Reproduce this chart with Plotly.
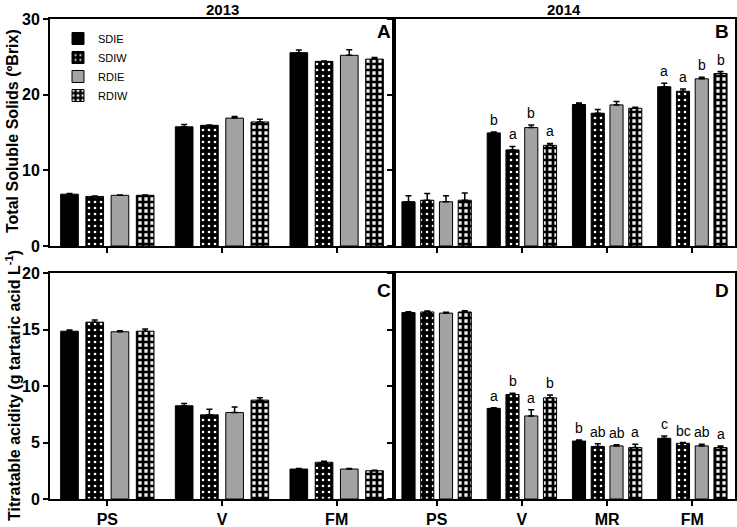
import plotly.graph_objects as go

series = ["SDIE", "SDIW", "RDIE", "RDIW"]
stages_2013 = ["PS", "V", "FM"]
stages_2014 = ["PS", "V", "MR", "FM"]

# Total soluble solids (ºBrix), 2013  [series][stage]
tss_2013 = [[6.85, 15.75, 25.55],
            [6.55, 15.95, 24.40],
            [6.70, 16.90, 25.20],
            [6.70, 16.40, 24.70]]
tss_2013_err = [[0.10, 0.30, 0.35],
                [0.05, 0.05, 0.05],
                [0.05, 0.20, 0.75],
                [0.05, 0.35, 0.20]]

# Total soluble solids (ºBrix), 2014
tss_2014 = [[5.85, 14.95, 18.70, 21.05],
            [6.05, 12.70, 17.55, 20.45],
            [5.85, 15.65, 18.65, 22.10],
            [6.05, 13.30, 18.20, 22.80]]
tss_2014_err = [[0.80, 0.10, 0.20, 0.45],
                [0.90, 0.45, 0.50, 0.30],
                [0.80, 0.35, 0.45, 0.20],
                [0.95, 0.25, 0.15, 0.25]]
tss_2014_letters = [["", "b", "", "a"],
                    ["", "a", "", "a"],
                    ["", "b", "", "b"],
                    ["", "a", "", "b"]]

# Titratable acidity (g tartaric acid L-1), 2013
ta_2013 = [[14.85, 8.25, 2.65],
           [15.65, 7.45, 3.25],
           [14.80, 7.65, 2.65],
           [14.85, 8.75, 2.50]]
ta_2013_err = [[0.10, 0.20, 0.05],
               [0.20, 0.50, 0.10],
               [0.10, 0.50, 0.05],
               [0.20, 0.20, 0.05]]

# Titratable acidity (g tartaric acid L-1), 2014
ta_2014 = [[16.50, 8.02, 5.13, 5.37],
           [16.55, 9.25, 4.65, 4.93],
           [16.45, 7.35, 4.70, 4.70],
           [16.55, 8.95, 4.55, 4.55]]
ta_2014_err = [[0.08, 0.05, 0.10, 0.20],
               [0.08, 0.10, 0.25, 0.07],
               [0.08, 0.55, 0.10, 0.15],
               [0.10, 0.25, 0.30, 0.15]]
ta_2014_letters = [["", "a", "b", "c"],
                   ["", "b", "ab", "bc"],
                   ["", "a", "ab", "ab"],
                   ["", "b", "a", "a"]]

FONT = "Liberation Sans, Arial, sans-serif"
GRAY = "#a3a3a5"

styles = [
    dict(color="black", pattern=dict(shape="")),
    dict(color="black", pattern=dict(shape=".", bgcolor="black", fgcolor="white",
                                     size=6, solidity=0.15, fillmode="replace")),
    dict(color=GRAY, pattern=dict(shape="")),
    dict(color="#d0d0d0", pattern=dict(shape="+", bgcolor="#f0f0f0", fgcolor="black",
                                       size=6, solidity=0.7, fillmode="replace")),
]

fig = go.Figure()

panels = [
    ("x", "y", stages_2013, tss_2013, tss_2013_err, None),
    ("x2", "y2", stages_2014, tss_2014, tss_2014_err, tss_2014_letters),
    ("x3", "y3", stages_2013, ta_2013, ta_2013_err, None),
    ("x4", "y4", stages_2014, ta_2014, ta_2014_err, ta_2014_letters),
]

BARGAP = 0.12
SLOT = (1 - BARGAP) / 4
annotations = []

for p, (xa, ya, stages, vals, errs, letters) in enumerate(panels):
    for i, name in enumerate(series):
        st = styles[i]
        fig.add_trace(go.Bar(
            x=stages, y=vals[i], name=name, xaxis=xa, yaxis=ya,
            legendgroup=name, showlegend=(p == 0),
            marker=dict(color=st["color"], pattern=st["pattern"],
                        line=dict(color="black", width=1)),
            error_y=dict(type="data", symmetric=False, array=errs[i],
                         arrayminus=[0] * len(stages), color="black",
                         thickness=1.5, width=3),
        ))
        if letters:
            for j, lab in enumerate(letters[i]):
                if lab:
                    annotations.append(dict(
                        x=j + (i - 1.5) * SLOT, y=vals[i][j] + errs[i][j],
                        xref=xa, yref=ya, text=lab, showarrow=False,
                        yanchor="bottom", yshift=2,
                        font=dict(family=FONT, size=14, color="black")))

W, H = 737, 527
def fx(px):
    return px / W
def fy(py):
    return 1 - py / H

xA = [fx(50), fx(394)]
xB = [fx(394), fx(735)]
yTop = [fy(246), fy(19)]
yBot = [fy(499), fy(273)]

axis_common = dict(showline=True, linecolor="black", linewidth=2, mirror=True,
                   showgrid=False, zeroline=False, ticks="outside", automargin=False,
                   tickcolor="black", tickwidth=2, ticklen=5,
                   tickfont=dict(family=FONT, size=16, color="black", weight="bold"))

fig.update_layout(
    template="none",
    width=W, height=H, autosize=False,
    margin=dict(l=0, r=0, t=0, b=0, pad=0),
    paper_bgcolor="white", plot_bgcolor="white",
    barmode="group", bargap=BARGAP, bargroupgap=0.3,
    font=dict(family=FONT, color="black"),
    xaxis=dict(domain=xA, anchor="y", range=[-0.5, 2.5], showticklabels=False, **axis_common),
    xaxis2=dict(domain=xB, anchor="y2", range=[-0.5, 3.5], showticklabels=False, **axis_common),
    xaxis3=dict(domain=xA, anchor="y3", range=[-0.5, 2.5], **axis_common),
    xaxis4=dict(domain=xB, anchor="y4", range=[-0.5, 3.5], **axis_common),
    yaxis=dict(domain=yTop, anchor="x", range=[0, 30], dtick=10, **axis_common),
    yaxis2=dict(domain=yTop, anchor="x2", range=[0, 30], dtick=10, showticklabels=False, **axis_common),
    yaxis3=dict(domain=yBot, anchor="x3", range=[0, 20], dtick=5, **axis_common),
    yaxis4=dict(domain=yBot, anchor="x4", range=[0, 20], dtick=5, showticklabels=False, **axis_common),
    legend=dict(x=fx(58), y=fy(24), xanchor="left", yanchor="top",
                bgcolor="rgba(0,0,0,0)", font=dict(family=FONT, size=11, color="black"),
                tracegroupgap=0, itemwidth=30),
)

fixed = [
    dict(text="<b>2013</b>", x=fx(222), y=fy(9), size=15),
    dict(text="<b>2014</b>", x=fx(564), y=fy(9), size=15),
    dict(text="<b>A</b>", x=fx(384), y=fy(31), size=19),
    dict(text="<b>B</b>", x=fx(722), y=fy(31), size=19),
    dict(text="<b>C</b>", x=fx(384), y=fy(290), size=19),
    dict(text="<b>D</b>", x=fx(722), y=fy(290), size=19),
]
for a in fixed:
    annotations.append(dict(text=a["text"], x=a["x"], y=a["y"], xref="paper", yref="paper",
                            showarrow=False, xanchor="center", yanchor="middle",
                            font=dict(family=FONT, size=a["size"], color="black")))

annotations.append(dict(text="<b>Total Soluble Solids (ºBrix)</b>", x=fx(13), y=fy(131),
                        xref="paper", yref="paper", showarrow=False, textangle=-90,
                        xanchor="center", yanchor="middle",
                        font=dict(family=FONT, size=16, color="black")))
annotations.append(dict(text="<b>Titratable acidity (g tartaric acid L<sup>-1</sup>)</b>",
                        x=fx(13), y=fy(386), xref="paper", yref="paper", showarrow=False,
                        textangle=-90, xanchor="center", yanchor="middle",
                        font=dict(family=FONT, size=16, color="black")))

fig.update_layout(annotations=annotations)
# remove the browser's default 8 px page margin so the figure fills the window
fig.write_html("out.html", config={"displayModeBar": False},
               post_script="document.body.style.margin='0';")
